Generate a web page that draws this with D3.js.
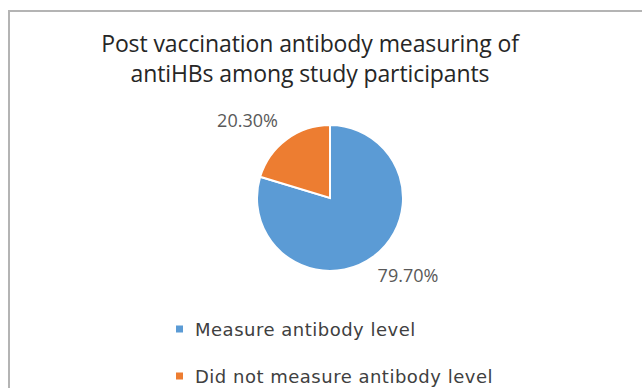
<!DOCTYPE html>
<html>
<head>
<meta charset="utf-8">
<script src="https://cdn.jsdelivr.net/npm/d3@7"></script>
<style>
  body { margin: 0; background: #fff; }
  svg { display: block; }
</style>
</head>
<body>
<svg width="642" height="388"></svg>
<script>
// chart values
const categories = ["Measure antibody level", "Did not measure antibody level"];
const values = [79.7, 20.3];
const labels = ["79.70%", "20.30%"];
const colors = ["#5b9bd5", "#ed7d31"];
const titleLines = ["Post vaccination antibody measuring of", "antiHBs among study participants"];

const svg = d3.select("svg");

// chart frame (runs off the right and bottom edges)
svg.append("rect")
  .attr("x", 9).attr("y", 11)
  .attr("width", 660).attr("height", 400)
  .style("fill", "#fff")
  .style("stroke", "#b4b4b4")
  .style("stroke-width", 2);

// title
svg.selectAll(".title")
  .data(titleLines)
  .enter()
  .append("text")
  .attr("class", "title")
  .attr("x", 310)
  .attr("y", (d, i) => 52 + i * 30)
  .attr("text-anchor", "middle")
  .style("font-family", "'Open Sans', sans-serif")
  .style("font-size", "23px")
  .style("letter-spacing", "-0.1px")
  .style("fill", "#262626")
  .text(d => d);

// pie
const cx = 330, cy = 198, r = 73;
const pie = d3.pie().sort(null).value(d => d);
const arcs = pie(values);
const arc = d3.arc().innerRadius(0).outerRadius(r);

const pieLayer = svg.append("g").attr("transform", `translate(${cx},${cy})`);
pieLayer.selectAll(".slice")
  .data(arcs)
  .enter()
  .append("path")
  .attr("class", "slice")
  .attr("d", arc)
  .style("fill", (d, i) => colors[i])
  .style("stroke", "#fff")
  .style("stroke-width", 2);

// data labels, outside end
const labelPos = [[78, 84], [-82.5, -71.3]];
pieLayer.selectAll(".lbl")
  .data(arcs)
  .enter()
  .append("text")
  .attr("class", "lbl")
  .attr("x", (d, i) => labelPos[i][0])
  .attr("y", (d, i) => labelPos[i][1])
  .attr("text-anchor", "middle")
  .style("font-family", "'Open Sans', sans-serif")
  .style("font-size", "18px")
  .style("fill", "#595959")
  .text((d, i) => labels[i]);

// legend
const legend = svg.selectAll(".legend")
  .data(categories)
  .enter()
  .append("g")
  .attr("class", "legend")
  .attr("transform", (d, i) => `translate(176,${325.5 + i * 47})`);

legend.append("rect")
  .attr("width", 7).attr("height", 7)
  .style("fill", (d, i) => colors[i]);

legend.append("text")
  .attr("x", 19)
  .attr("y", 10.5)
  .style("font-family", "'DejaVu Sans', sans-serif")
  .style("font-size", "18px")
  .style("letter-spacing", "0.5px")
  .style("fill", "#404040")
  .text(d => d);
</script>
</body>
</html>
